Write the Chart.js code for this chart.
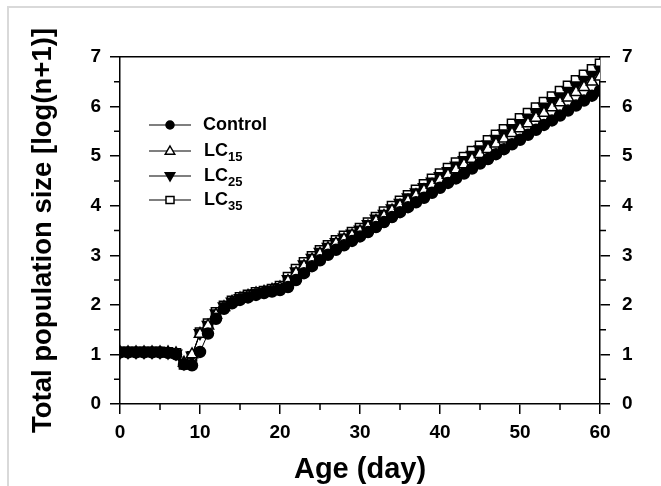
<!DOCTYPE html>
<html>
<head>
<meta charset="utf-8">
<script src="https://cdn.jsdelivr.net/npm/chart.js@4.4.0/dist/chart.umd.min.js"></script>
<style>
  html, body { margin: 0; padding: 0; background: #fff; }
  #wrap { position: relative; width: 661px; height: 486px; overflow: hidden; }
  #frame { position: absolute; left: 7px; top: 6px; width: 700px; height: 600px;
           border-top: 2px solid #d9d9d9; border-left: 2px solid #d9d9d9; }
  canvas { position: absolute; left: 0; top: 0; }
</style>
</head>
<body>
<div id="wrap">
  <div id="frame"></div>
  <canvas id="c" width="661" height="486"></canvas>
</div>
<script>
const days = [0,1,2,3,4,5,6,7,8,9,10,11,12,13,14,15,16,17,18,19,20,21,22,23,24,25,26,27,28,29,30,
  31,32,33,34,35,36,37,38,39,40,41,42,43,44,45,46,47,48,49,50,51,52,53,54,55,56,57,58,59,60];

const control = [1.04,1.04,1.04,1.04,1.04,1.04,1.03,1.00,0.80,0.78,1.05,1.42,1.72,1.92,2.03,2.10,2.15,2.20,2.24,2.27,2.30,
  2.36,2.50,2.64,2.78,2.90,3.01,3.11,3.20,3.29,3.38,3.47,3.57,3.67,3.77,3.87,3.97,4.07,4.16,4.26,4.36,
  4.46,4.55,4.65,4.75,4.85,4.94,5.04,5.14,5.24,5.33,5.43,5.53,5.63,5.72,5.82,5.92,6.02,6.12,6.22,6.32];

const lc15 = [1.04,1.04,1.04,1.04,1.04,1.04,1.04,1.02,0.83,1.00,1.41,1.58,1.80,1.95,2.06,2.13,2.18,2.23,2.26,2.30,2.35,
  2.48,2.64,2.78,2.91,3.03,3.14,3.24,3.32,3.40,3.48,3.58,3.69,3.79,3.90,4.00,4.10,4.21,4.31,4.42,4.52,
  4.62,4.73,4.83,4.94,5.04,5.14,5.25,5.35,5.46,5.56,5.66,5.77,5.87,5.98,6.08,6.18,6.29,6.39,6.50,6.60];

const lc25 = [1.05,1.05,1.05,1.05,1.05,1.05,1.04,1.02,0.82,0.98,1.43,1.60,1.83,1.97,2.07,2.14,2.19,2.24,2.27,2.31,2.36,
  2.52,2.68,2.82,2.95,3.07,3.17,3.27,3.36,3.44,3.52,3.63,3.74,3.84,3.95,4.06,4.17,4.27,4.38,4.49,4.60,
  4.70,4.81,4.92,5.03,5.14,5.24,5.35,5.46,5.57,5.67,5.78,5.89,6.00,6.11,6.21,6.32,6.43,6.54,6.64,6.75];

const lc35 = [1.05,1.05,1.05,1.05,1.05,1.05,1.04,1.02,0.80,0.96,1.44,1.62,1.85,1.98,2.08,2.15,2.20,2.25,2.28,2.32,2.38,
  2.56,2.72,2.86,2.98,3.10,3.20,3.30,3.39,3.47,3.55,3.66,3.77,3.88,3.99,4.10,4.21,4.32,4.43,4.54,4.65,
  4.76,4.87,4.98,5.10,5.21,5.32,5.43,5.54,5.65,5.76,5.87,5.98,6.09,6.20,6.31,6.42,6.53,6.64,6.75,6.86];

const xTicks = [0,10,20,30,40,50,60];
const yTicks = [0,1,2,3,4,5,6,7];
const xMinor = [5,15,25,35,45,55];
const yMinor = [0.5,1.5,2.5,3.5,4.5,5.5,6.5];

const legendNames = ['Control', 'LC', 'LC', 'LC'];
const legendSubs = ['', '15', '25', '35'];

const FONT = "'Liberation Sans', Arial, sans-serif";

function toXY(vals) { return vals.map((v, i) => ({x: days[i], y: v})); }

const series = [
  {label: 'Control', data: toXY(control), pointStyle: 'circle', pointRadius: 5.5, pointBackgroundColor: '#000', pointRotation: 0},
  {label: 'LC15', data: toXY(lc15), pointStyle: 'triangle', pointRadius: 6.5, pointBackgroundColor: '#fff', pointRotation: 0},
  {label: 'LC25', data: toXY(lc25), pointStyle: 'triangle', pointRadius: 6.5, pointBackgroundColor: '#000', pointRotation: 180},
  {label: 'LC35', data: toXY(lc35), pointStyle: 'rect', pointRadius: 6.5, pointBackgroundColor: '#fff', pointRotation: 0}
].map(d => Object.assign(d, {borderColor: '#000', borderWidth: 1, pointBorderColor: '#000', pointBorderWidth: 1.5, fill: false, tension: 0}));

function setTicks(arr) { return function(scale) { scale.ticks = arr.map(v => ({value: v})); }; }

const minorTicks = {
  id: 'minorTicks',
  afterDraw(chart) {
    const ctx = chart.ctx;
    const x = chart.scales.x, y = chart.scales.y, y2 = chart.scales.y2;
    ctx.save();
    ctx.strokeStyle = '#000';
    ctx.lineWidth = 1.5;
    ctx.beginPath();
    xMinor.forEach(v => { const px = x.getPixelForValue(v); ctx.moveTo(px, x.top); ctx.lineTo(px, x.top + 6); });
    yMinor.forEach(v => {
      const py = y.getPixelForValue(v);
      ctx.moveTo(y.right, py); ctx.lineTo(y.right - 6, py);
      ctx.moveTo(y2.left, py); ctx.lineTo(y2.left + 6, py);
    });
    ctx.stroke();
    ctx.restore();
  }
};

function drawMarker(ctx, style, rot, fill, x, y, r) {
  ctx.save();
  ctx.translate(x, y);
  ctx.rotate(rot * Math.PI / 180);
  ctx.beginPath();
  if (style === 'circle') {
    ctx.arc(0, 0, r, 0, Math.PI * 2);
  } else if (style === 'triangle') {
    ctx.moveTo(0, -r);
    ctx.lineTo(r * 0.95, r * 0.65);
    ctx.lineTo(-r * 0.95, r * 0.65);
    ctx.closePath();
  } else {
    ctx.rect(-r * 0.8, -r * 0.7, r * 1.6, r * 1.4);
  }
  ctx.fillStyle = fill;
  ctx.fill();
  ctx.lineWidth = 1.5;
  ctx.strokeStyle = '#000';
  ctx.stroke();
  ctx.restore();
}

const customLegend = {
  id: 'customLegend',
  afterDraw(chart) {
    const ctx = chart.ctx;
    const rowsY = [125, 151, 176, 200];
    ctx.save();
    chart.data.datasets.forEach((ds, i) => {
      const yy = rowsY[i];
      ctx.strokeStyle = '#000';
      ctx.lineWidth = 1.2;
      ctx.beginPath();
      ctx.moveTo(149, yy); ctx.lineTo(191, yy);
      ctx.stroke();
      drawMarker(ctx, ds.pointStyle, ds.pointRotation, ds.pointBackgroundColor, 170, yy, ds.pointStyle === 'circle' ? 4 : 5);
      ctx.fillStyle = '#000';
      ctx.textBaseline = 'middle';
      ctx.textAlign = 'left';
      ctx.font = 'bold 18px ' + FONT;
      const tx = i === 0 ? 203 : 204;
      ctx.fillText(legendNames[i], tx, yy);
      if (legendSubs[i]) {
        const w = ctx.measureText(legendNames[i]).width;
        ctx.font = 'bold 13px ' + FONT;
        ctx.fillText(legendSubs[i], tx + w, yy + 6);
      }
    });
    ctx.restore();
  }
};

new Chart(document.getElementById('c'), {
  type: 'line',
  data: { datasets: series },
  options: {
    responsive: false,
    animation: false,
    events: [],
    layout: { padding: 0 },
    plugins: { legend: { display: false }, tooltip: { enabled: false } },
    scales: {
      x: {
        type: 'linear', position: 'bottom', min: 0, max: 60,
        afterBuildTicks: setTicks(xTicks),
        afterFit(s) { s.height = 82; },
        ticks: { autoSkip: false, maxRotation: 0, padding: 7, color: '#000', font: { family: FONT, size: 19, weight: 'bold' } },
        grid: { drawOnChartArea: false, drawTicks: true, tickLength: 10, color: '#000', lineWidth: 1.5 },
        border: { display: true, color: '#000', width: 1.5 },
        title: { display: true, text: 'Age (day)', color: '#000', padding: { top: 0, bottom: 0 },
                 font: { family: FONT, size: 29, weight: 'bold', lineHeight: 1.1 } }
      },
      x2: {
        type: 'linear', position: 'top', min: 0, max: 60,
        afterFit(s) { s.height = 57; },
        ticks: { display: false },
        grid: { display: false, drawTicks: false },
        border: { display: true, color: '#000', width: 1.5 }
      },
      y: {
        type: 'linear', position: 'left', min: 0, max: 7,
        afterBuildTicks: setTicks(yTicks),
        afterFit(s) { s.width = 120; },
        ticks: { autoSkip: false, padding: 9, color: '#000', font: { family: FONT, size: 19, weight: 'bold' } },
        grid: { drawOnChartArea: false, drawTicks: true, tickLength: 10, color: '#000', lineWidth: 1.5 },
        border: { display: true, color: '#000', width: 1.5 },
        title: { display: true, text: 'Total population size [log(n+1)]', color: '#000', padding: { top: 30, bottom: 0 },
                 font: { family: FONT, size: 27.5, weight: 'bold', lineHeight: 1 } }
      },
      y2: {
        type: 'linear', position: 'right', min: 0, max: 7,
        afterBuildTicks: setTicks(yTicks),
        afterFit(s) { s.width = 61; },
        ticks: { autoSkip: false, padding: 12, color: '#000', font: { family: FONT, size: 19, weight: 'bold' } },
        grid: { drawOnChartArea: false, drawTicks: true, tickLength: 10, color: '#000', lineWidth: 1.5 },
        border: { display: true, color: '#000', width: 1.5 }
      }
    }
  },
  plugins: [minorTicks, customLegend]
});
</script>
</body>
</html>
